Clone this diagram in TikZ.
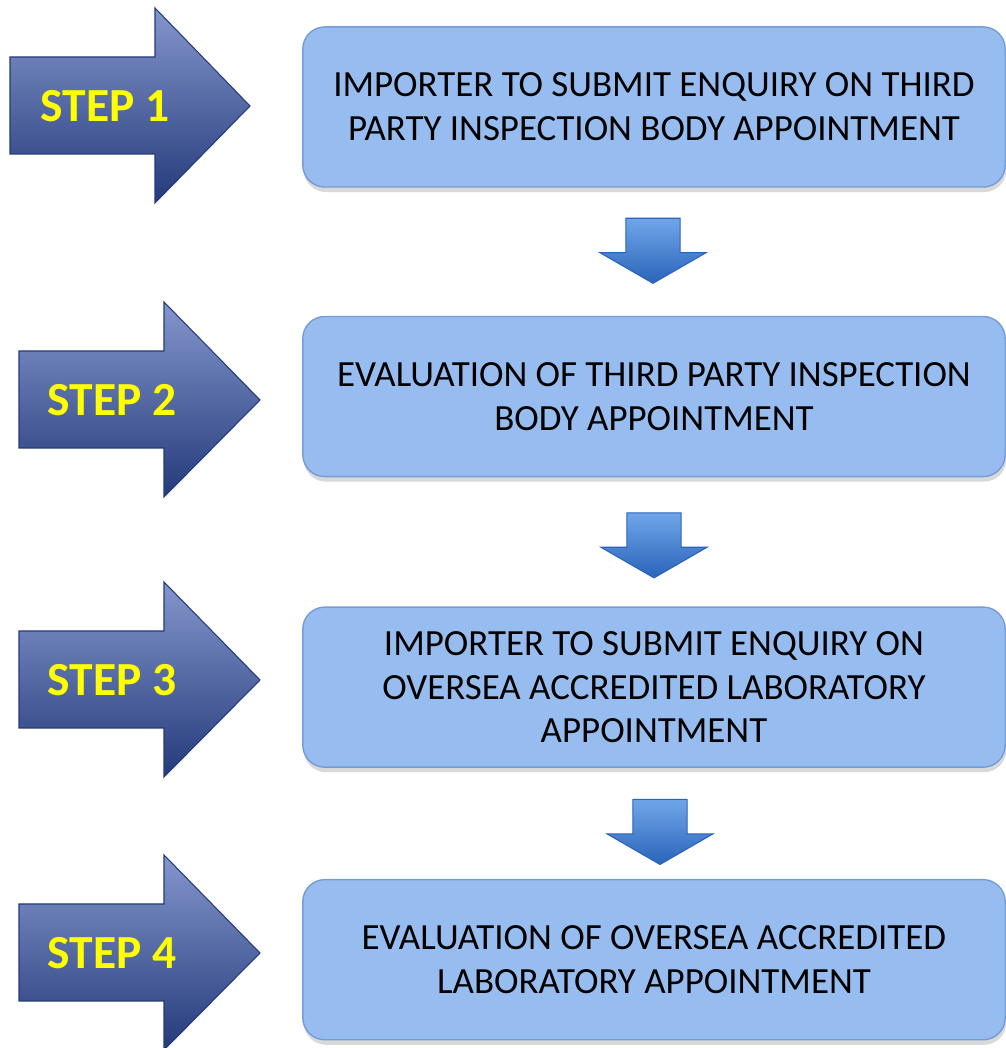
\documentclass[tikz,border=0pt]{standalone}
\usepackage{fontspec}
\setmainfont{Carlito}
\usetikzlibrary{positioning,calc,shapes.arrows,shadows}

\definecolor{boxblue}{RGB}{151,189,240}
\definecolor{boxedge}{RGB}{118,156,212}
\definecolor{steplight}{RGB}{132,150,204}
\definecolor{stepmid}{RGB}{86,108,172}
\definecolor{stepdark}{RGB}{36,58,122}
\definecolor{downlight}{RGB}{112,166,232}
\definecolor{downdark}{RGB}{42,100,186}
\definecolor{stepyellow}{RGB}{255,255,0}

\begin{document}
\begin{tikzpicture}[x=0.01cm,y=0.01cm,
  stage box/.style={rectangle,rounded corners=0.22cm,draw=boxedge,fill=boxblue,
    minimum width=7.02cm,minimum height=1.6cm,align=center,
    font=\fontsize{10.5}{12.5}\selectfont,
    drop shadow={shadow xshift=0.01cm,shadow yshift=-0.05cm,opacity=0.3}},
  step arrow/.style={top color=steplight,middle color=stepmid,bottom color=stepdark,
    draw=stepdark,line width=0.3pt,line join=miter},
  step label/.style={text=stepyellow,font=\bfseries\fontsize{13.5}{15}\selectfont,inner sep=0pt},
  down arrow/.style={single arrow,rotate=-90,anchor=tail,inner xsep=0pt,inner ysep=0.265cm,
    minimum height=0.65cm,single arrow head extend=0.26cm,
    single arrow tip angle=120,top color=downlight,bottom color=downdark,
    draw=downdark,line width=0.3pt}]

  \useasboundingbox (0,0) rectangle (1006,1048);

  % stage boxes
  \node[stage box] (box1) at (654,941) {IMPORTER TO SUBMIT ENQUIRY ON THIRD\\PARTY INSPECTION BODY APPOINTMENT};
  \node[stage box] (box2) [below=1.28cm of box1] {EVALUATION OF THIRD PARTY INSPECTION\\BODY APPOINTMENT};
  \node[stage box] (box3) [below=1.29cm of box2] {IMPORTER TO SUBMIT ENQUIRY ON\\OVERSEA ACCREDITED LABORATORY\\APPOINTMENT};
  \node[stage box] (box4) [below=1.11cm of box3] {EVALUATION OF OVERSEA ACCREDITED\\LABORATORY APPOINTMENT};

  % arrows between the boxes
  \node[down arrow] (down1) at ($(box1.south)+(-1,-30)$) {};
  \node[down arrow] (down2) at ($(box2.south)+(0,-35)$) {};
  \node[down arrow] (down3) at ($(box3.south)+(6,-31)$) {};

  % step arrows
  \coordinate (tip1) at (250,942);
  \coordinate (tip2) at (260,648);
  \coordinate (tip3) at (260,368);
  \coordinate (tip4) at (260,95);
  \draw[step arrow] (tip1) -- ++(-95,-97) -- ++(0,49) -- ++(-145,0) -- ++(0,97) -- ++(145,0) -- ++(0,49) -- cycle;
  \draw[step arrow] (tip2) -- ++(-96,-97) -- ++(0,49) -- ++(-145,0) -- ++(0,97) -- ++(145,0) -- ++(0,49) -- cycle;
  \draw[step arrow] (tip3) -- ++(-96,-97) -- ++(0,49) -- ++(-145,0) -- ++(0,97) -- ++(145,0) -- ++(0,49) -- cycle;
  \draw[step arrow] (tip4) -- ++(-96,-97) -- ++(0,49) -- ++(-145,0) -- ++(0,97) -- ++(145,0) -- ++(0,49) -- cycle;

  \node[step label] (step1) at (105,942) {STEP 1};
  \node[step label] (step2) at (112,648) {STEP 2};
  \node[step label] (step3) at (112,368) {STEP 3};
  \node[step label] (step4) at (112,95) {STEP 4};
\end{tikzpicture}
\end{document}
